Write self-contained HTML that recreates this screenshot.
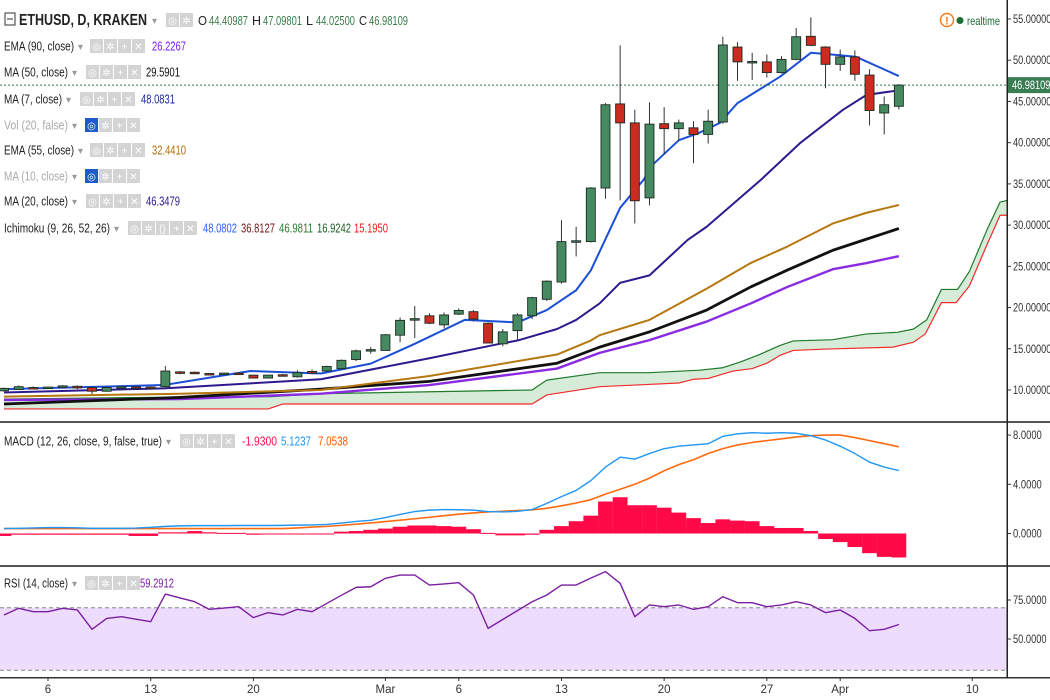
<!DOCTYPE html>
<html><head><meta charset="utf-8">
<style>
html,body{margin:0;padding:0;background:#fff;}
body{width:1050px;height:700px;overflow:hidden;position:relative;font-family:"Liberation Sans",sans-serif;}
svg{position:absolute;left:0;top:0;}
text{font-family:"Liberation Sans",sans-serif;}
</style></head>
<body>
<svg id="chart" width="1050" height="700" viewBox="0 0 1050 700"></svg>
<script>
// ---------- DATA ----------
const opens  = [9.9,10.05,10.3,10.25,10.4,10.45,10.3,9.85,10.3,10.38,10.35,10.4,12.2,12.15,12.0,11.9,12.05,11.8,11.45,11.85,11.6,12.25,12.3,12.6,13.7,14.8,14.8,16.65,18.55,19.0,17.9,19.2,19.5,18.1,15.6,17.2,19.0,21.0,23.1,28.0,28.0,34.5,44.7,42.4,33.3,42.3,41.7,41.8,41.0,42.5,51.6,49.7,49.8,48.5,50.1,52.9,51.6,49.5,50.4,48.2,43.6,44.41];
const highs  = [10.3,10.55,10.45,10.4,10.6,10.55,10.35,10.4,10.45,10.45,10.4,12.9,12.3,12.25,12.05,12.1,12.15,11.85,11.85,11.95,12.4,12.5,12.95,13.7,14.9,15.2,16.8,18.8,20.2,19.3,19.4,19.9,19.7,18.2,17.4,19.3,21.3,23.3,30.6,29.8,34.6,44.8,51.8,44.0,44.9,44.3,42.8,42.6,44.0,52.85,52.2,50.9,50.7,50.5,53.9,55.2,51.7,51.3,51.2,48.9,45.6,47.10];
const lows   = [9.8,10.0,10.1,10.2,10.3,10.1,9.5,9.8,10.2,10.25,10.25,10.35,11.9,11.95,11.8,11.85,11.9,11.4,11.4,11.7,11.5,11.9,12.2,12.5,13.5,14.4,14.75,15.8,16.3,18.0,17.5,19.1,18.3,15.7,15.3,16.0,18.6,20.8,22.9,26.2,27.9,33.2,33.0,30.2,32.4,38.6,40.2,37.5,39.9,42.3,47.5,47.6,47.9,48.4,50.0,51.7,46.6,48.7,47.5,42.1,41.0,44.03];
const closes = [10.2,10.4,10.2,10.35,10.5,10.25,9.85,10.3,10.4,10.3,10.3,12.3,12.1,12.0,11.9,12.05,12.0,11.45,11.8,11.8,12.1,12.05,12.85,13.6,14.75,14.9,16.7,18.45,18.65,18.1,19.1,19.65,18.6,15.7,17.05,19.1,21.2,23.2,28.0,28.1,34.5,44.6,42.4,32.95,42.25,41.7,42.4,41.0,42.6,51.85,49.8,49.85,48.5,50.1,52.85,51.8,49.5,50.4,48.3,43.9,44.6,46.98109];

const ma7Idx  = [0,10.9,16.8,21.6,25,28,31.4,35,37,39,40,42,43.6,44.2,46,47.4,48.8,50,52.9,55,57,58.1,61];
const ma7Val  = [10.1,10.6,12.3,12.0,13.2,15.6,18.5,18.2,19.7,22.1,24.5,32.1,35.5,37.3,40.3,41.2,42.4,44.8,48.0,50.9,50.6,50.4,48.08];
const ma20Idx = [0,10.9,21.6,29,33.8,35,37.7,39,40.6,42,44,46.6,47.9,51.6,54.3,57.2,58.8,61];
const ma20Val = [9.7,10.2,11.3,13.85,15.6,16.0,17.4,18.5,20.5,23.0,23.9,28.2,29.8,35.5,40.0,44.0,45.8,46.35];
const ema55Idx = [0,12,21.6,29,37.7,40,40.6,44,47.9,50.9,53.4,56.5,58.8,61];
const ema55Val = [9.2,9.55,10.0,11.7,14.3,16.0,16.65,18.5,22.3,25.4,27.4,30.2,31.5,32.44];
const ma50Idx = [0,12,21.6,29,37.7,40.6,44,47.9,50.9,53.4,56.5,58.8,61];
const ma50Val = [8.3,9.1,10.1,11.05,13.25,15.2,17.05,19.7,22.5,24.55,26.95,28.3,29.59];
const ema90Idx = [0,12,21.6,29,37.7,40.6,44,47.9,50.9,53.4,56.5,58.8,61];
const ema90Val = [8.8,8.9,9.55,10.6,12.6,14.5,16.05,18.3,20.5,22.5,24.65,25.4,26.23];
const spanAIdx = [0,9.5,18.2,21.6,36,37,40.6,44,47.4,49,50.2,51.5,52.9,53.8,56.5,58.8,60.9,62,62.9,63.9,65,65.8,67,67.9,68.4];
const spanAVal = [8.9,9.1,9.2,9.55,10.0,11.2,12.1,12.1,12.4,12.7,13.4,14.3,15.4,15.95,16.1,16.8,17.0,17.4,18.5,22.2,22.2,24.35,29.4,32.8,33.0];
const spanBIdx = [0,18,19,36,37,40.6,43,46,47,48,49.7,51,52,52.9,53.8,55.8,60.6,62,62.8,63.9,64.9,65.8,67,67.9,68.4];
const spanBVal = [7.7,7.7,8.3,8.3,9.4,10.4,10.6,10.85,11.3,11.4,12.3,12.6,13.25,14.2,14.8,14.95,15.2,15.8,16.8,20.6,20.6,22.6,27.6,31.2,31.2];

const macdVals = [0.4,0.42,0.45,0.48,0.48,0.46,0.42,0.42,0.42,0.44,0.5,0.58,0.62,0.64,0.64,0.64,0.65,0.65,0.65,0.66,0.68,0.7,0.74,0.85,0.98,1.07,1.3,1.55,1.78,1.9,1.95,1.93,1.9,1.78,1.75,1.8,1.95,2.45,3.0,3.5,4.3,5.4,6.2,6.05,6.5,6.9,7.1,7.2,7.3,7.9,8.1,8.2,8.15,8.2,8.15,7.95,7.6,7.1,6.5,5.8,5.4,5.12];
const signalVals = [0.4,0.4,0.4,0.4,0.4,0.4,0.4,0.4,0.4,0.4,0.4,0.4,0.4,0.4,0.4,0.4,0.4,0.4,0.4,0.4,0.45,0.52,0.58,0.66,0.76,0.86,0.97,1.08,1.2,1.32,1.45,1.57,1.67,1.75,1.81,1.87,1.92,2.05,2.25,2.48,2.75,3.2,3.6,4.0,4.5,5.1,5.6,6.0,6.5,6.9,7.2,7.4,7.55,7.7,7.85,7.95,8.0,8.0,7.8,7.55,7.3,7.05];
const histVals = [-0.2,-0.1,-0.1,-0.1,-0.1,-0.1,-0.1,-0.1,-0.1,-0.2,-0.2,0.1,0.1,0.2,0.1,0.05,0.05,-0.1,-0.05,-0.05,-0.05,-0.05,0,0.15,0.2,0.3,0.4,0.55,0.65,0.65,0.6,0.55,0.35,0.05,-0.15,-0.15,-0.1,0.3,0.6,1.0,1.45,2.6,2.95,2.3,2.3,2.1,1.7,1.25,0.85,1.15,1.05,1.0,0.6,0.45,0.45,0.2,-0.45,-0.7,-1.1,-1.6,-1.9,-1.95];
const rsiVals = [65.4,69.7,67.5,67.5,69.7,68.6,56.2,63.2,64.3,62.7,61.1,78.8,76.3,73.9,69.0,69.8,70.7,63.7,66.9,65.4,69.0,67.5,72.8,78,83.1,83.5,88.9,91.0,91.0,84.6,85.3,86.1,78.2,56.8,62.5,68.2,73.9,78.2,84.6,84.6,89,93.2,85.7,64.3,71.8,70.7,71.8,69.0,70.7,77.1,73.3,73.3,70.7,71.8,73.9,71.8,66.9,68.6,63.2,55.3,56.2,59.3];

const priceTicks = [55,50,45,40,35,30,25,20,15,10];
const macdTicks = [8,4,0];
const rsiTicks = [75,50];
const dateLabels = ["6","13","20","Mar","6","13","20","27","Apr","10"];
const dateIdx = [3,10,17,26,31,38,45,52,57,66];

// ---------- AXES ----------
const NS = "http://www.w3.org/2000/svg";
const svg = document.getElementById('chart');
const PLOT_R = 1007;
const xOf = i => 4 + i * 14.67;
const yP = v => 19 + (55 - v) * 8.2444;
const yM = v => 533.5 - v * 12.3;
const yR = v => 600 + (75 - v) * 1.56;

function mk(tag, attrs, parent){
  const e = document.createElementNS(NS, tag);
  for (const k in attrs) e.setAttribute(k, attrs[k]);
  (parent || svg).appendChild(e);
  return e;
}
function txt(s, x, y, attrs, parent){
  const t = mk('text', Object.assign({x:x, y:y, 'font-size':12, fill:'#333'}, attrs||{}), parent);
  t.textContent = s;
  return t;
}

const defs = mk('defs', {});
const cp = mk('clipPath', {id:'plotclip'}, defs);
mk('rect', {x:0, y:0, width:PLOT_R, height:421}, cp);

const gMain = mk('g', {'clip-path':'url(#plotclip)'});



function knotPts(idx, val, yf){ return idx.map((i,k)=>[xOf(i), yf(val[k])]); }
const aPts = knotPts(spanAIdx, spanAVal, yP);
const bPts = knotPts(spanBIdx, spanBVal, yP);
const cloud = mk('path', {d:'M'+aPts.map(p=>p.join(',')).join(' L')+' L'+bPts.slice().reverse().map(p=>p.join(',')).join(' L')+' Z', fill:'#d6ecd9', stroke:'none'}, gMain);


function line(pts, color, w, name, parent){
  const l = mk('polyline', {points:pts.map(p=>p.join(',')).join(' '), fill:'none', stroke:color, 'stroke-width':w, 'stroke-linejoin':'round'}, parent);
  
  
  return l;
}
line(aPts, '#1f7a2a', 1.2, 'ichimoku-span-a', gMain);
line(bPts, '#f22b2b', 1.2, 'ichimoku-span-b', gMain);
line(knotPts(ema90Idx, ema90Val, yP), '#8a2be2', 2.4, 'ema-90-line', gMain);
line(knotPts(ma50Idx, ma50Val, yP), '#111', 2.8, 'ma-50-line', gMain);
line(knotPts(ema55Idx, ema55Val, yP), '#b5770f', 2, 'ema-55-line', gMain);
line(knotPts(ma20Idx, ma20Val, yP), '#2e1a8e', 2, 'ma-20-line', gMain);
line(knotPts(ma7Idx, ma7Val, yP), '#1a4fd6', 2, 'ma-7-line', gMain);

const lastY = yP(closes[closes.length-1]);
const lp = mk('line', {x1:0, x2:PLOT_R, y1:lastY, y2:lastY, stroke:'#2d7a46', 'stroke-width':1, 'stroke-dasharray':'2,2'}, gMain);



for (let i = 0; i < closes.length; i++){
  const up = closes[i] >= opens[i];
  const x = xOf(i);
  const g = mk('g', {}, gMain);
  
  
  mk('line', {x1:x, x2:x, y1:yP(highs[i]), y2:yP(lows[i]), stroke:'#333', 'stroke-width':1}, g);
  const top = yP(Math.max(opens[i], closes[i]));
  const bot = yP(Math.min(opens[i], closes[i]));
  mk('rect', {x:x-4.5, y:top, width:9, height:Math.max(1.5, bot-top), fill: up ? '#468a62' : '#cc2b1f', stroke:'#1c2a20', 'stroke-width':0.9}, g);
}

// ---------- MACD pane ----------
const gMacd = mk('g', {});


for (let i = 0; i < histVals.length; i++){
  const v = histVals[i];
  const y0 = yM(0), y1 = yM(v);
  const r = mk('rect', {x:xOf(i)-7.4, y:Math.min(y0,y1), width:14.8, height:Math.max(1, Math.abs(y1-y0)), fill:'#ff0a47'}, gMacd);
  
  
}
line(signalVals.map((v,i)=>[xOf(i), yM(v)]), '#ff6a10', 1.6, 'macd-signal-line', gMacd);
line(macdVals.map((v,i)=>[xOf(i), yM(v)]), '#2196f3', 1.4, 'macd-line', gMacd);

// ---------- RSI pane ----------
const gRsi = mk('g', {});


const band = mk('rect', {x:0, y:yR(70), width:PLOT_R, height:yR(30)-yR(70), fill:'#eedcfd'}, gRsi);


[70,30].forEach(v=>{
  const l = mk('line', {x1:0, x2:PLOT_R, y1:yR(v), y2:yR(v), stroke:'#888', 'stroke-dasharray':'4,3', 'stroke-width':1}, gRsi);
  
  
});
line(rsiVals.map((v,i)=>[xOf(i), yR(v)]), '#7b1fa2', 1.4, 'rsi-line', gRsi);

// ---------- Frames ----------
function hline(y, w, c, name){
  const l = mk('rect', {x:0, y:y, width:1050, height:w, fill:c});
  
  
}
hline(421, 2, '#555', 'pane-separator-macd');
hline(565, 2, '#555', 'pane-separator-rsi');
hline(677, 1.5, '#333', 'x-axis-line');
const ax = mk('rect', {x:1006.5, y:0, width:1.5, height:678, fill:'#222'});



const axisG = mk('g', {});


function tick(v, y, s, name){
  mk('line', {x1:1008, x2:1011, y1:y, y2:y, stroke:'#333'}, axisG);
  const t = txt(s, 1013, y+4, {'font-size':11.5, fill:'#333', 'textLength':s.length*4.8, 'lengthAdjust':'spacingAndGlyphs'}, axisG);
  
  
}
priceTicks.forEach(v=> tick(v, yP(v), v.toFixed(5), 'price-tick-label'));
macdTicks.forEach(v=> tick(v, yM(v), v.toFixed(4), 'macd-tick-label'));
rsiTicks.forEach(v=> tick(v, yR(v), v.toFixed(4), 'rsi-tick-label'));

const lpl = mk('g', {});


mk('rect', {x:1008, y:lastY-8, width:42, height:16, fill:'#3a7d53'}, lpl);
txt(closes[closes.length-1].toFixed(5), 1012, lastY+4, {'font-size':11.5, fill:'#fff', 'textLength':38.4, 'lengthAdjust':'spacingAndGlyphs'}, lpl);

dateLabels.forEach((s,k)=>{
  const x = xOf(dateIdx[k]);
  mk('line', {x1:x, x2:x, y1:678, y2:681, stroke:'#333'});
  const t = txt(s, x, 693, {'font-size':11.5, 'text-anchor':'middle', fill:'#333'});
  
  
});

// ---------- Legends ----------
function icons(x, y, n, firstBlue, name){
  const g = mk('g', {});
  
  
  for (let k=0;k<n;k++){
    mk('rect', {x:x+k*14, y:y-7, width:13, height:14, fill:(firstBlue && k===0)?'#1e5bc6':'#d4d4d4'}, g);
  }
  const glyphs = n===2 ? ['◎','✲'] : n===5 ? ['◎','✲','{}','+','✕'] : ['◎','✲','+','✕'];
  glyphs.forEach((gl,k)=>{ txt(gl, x+k*14+6.5, y+4, {'font-size':10, fill:'#fff', 'text-anchor':'middle'}, g); });
  return g;
}
function legendRow(label, y, color, arrowX, iconX, n, vals, name, blue){
  const t = txt(label, 4, y+4.5, {'font-size':12.5, fill:color, 'textLength':arrowX-8, 'lengthAdjust':'spacingAndGlyphs'});
  
  
  txt('▾', arrowX, y+4, {'font-size':10, fill:'#999'});
  icons(iconX, y, n, blue, name + '-controls');
  vals.forEach(v=>{
    const vt = txt(v[0], v[1], y+4.5, {'font-size':12.5, fill:v[2], 'textLength':v[3], 'lengthAdjust':'spacingAndGlyphs'});
    
    
  });
}
mk('rect', {x:5, y:13, width:10, height:12, fill:'none', stroke:'#333', 'stroke-width':1});
mk('line', {x1:7, x2:13, y1:19, y2:19, stroke:'#333'});
const title = txt('ETHUSD, D, KRAKEN', 19, 25, {'font-size':16, 'font-weight':'bold', fill:'#222', 'textLength':128, 'lengthAdjust':'spacingAndGlyphs'});


txt('▾', 152, 24, {'font-size':10, fill:'#999'});
icons(166, 20, 2, false, 'symbol-controls');
const ohlc = [['O',198,'#222',9],['44.40987',209,'#3b7d4a',39],['H',252,'#222',9],['47.09801',263,'#3b7d4a',39],['L',306,'#222',7],['44.02500',316,'#3b7d4a',39],['C',359,'#222',8],['46.98109',369,'#3b7d4a',39]];
ohlc.forEach(o=>{
  const t = txt(o[0], o[1], 25, {'font-size':12.5, fill:o[2], 'textLength':o[3], 'lengthAdjust':'spacingAndGlyphs'});
  
  
});
legendRow('EMA (90, close)', 46, '#222', 78, 90, 4, [['26.2267',152,'#7a1cf5',34]], 'ema-90-legend');
legendRow('MA (50, close)', 72, '#222', 72, 86, 4, [['29.5901',146,'#111',34]], 'ma-50-legend');
legendRow('MA (7, close)', 99, '#222', 66, 80, 4, [['48.0831',141,'#1d2a9e',34]], 'ma-7-legend');
legendRow('Vol (20, false)', 125, '#aaa', 72, 85, 4, [], 'vol-legend', true);
legendRow('EMA (55, close)', 150, '#222', 78, 90, 4, [['32.4410',152,'#b0700c',34]], 'ema-55-legend');
legendRow('MA (10, close)', 176, '#aaa', 72, 85, 4, [], 'ma-10-legend', true);
legendRow('MA (20, close)', 201, '#222', 72, 86, 4, [['46.3479',146,'#2e1a8e',34]], 'ma-20-legend');
legendRow('Ichimoku (9, 26, 52, 26)', 228, '#222', 114, 128, 5, [['48.0802',203,'#2962ff',34],['36.8127',241,'#7a1414',34],['46.9811',279,'#2e7d32',34],['16.9242',317,'#1b5e20',34],['15.1950',354,'#f21818',34]], 'ichimoku-legend');
legendRow('MACD (12, 26, close, 9, false, true)', 441, '#222', 166, 180, 4, [['-1.9300',242,'#ff1050',35],['5.1237',281,'#2196f3',30],['7.0538',318,'#ff5a00',30]], 'macd-legend');
legendRow('RSI (14, close)', 583, '#222', 72, 85, 4, [['59.2912',140,'#7b1fa2',34]], 'rsi-legend');

const rt = mk('g', {});


mk('circle', {cx:947, cy:20, r:6.5, fill:'#fff', stroke:'#f57c20', 'stroke-width':1.5}, rt);
txt('!', 947, 24.5, {'font-size':11, fill:'#f57c20', 'text-anchor':'middle', 'font-weight':'bold'}, rt);
mk('circle', {cx:960, cy:20.5, r:3.5, fill:'#1b6b35'}, rt);
txt('realtime', 967, 25, {'font-size':12, fill:'#1b6b35', 'textLength':33, 'lengthAdjust':'spacingAndGlyphs'}, rt);
</script>
</body></html>
